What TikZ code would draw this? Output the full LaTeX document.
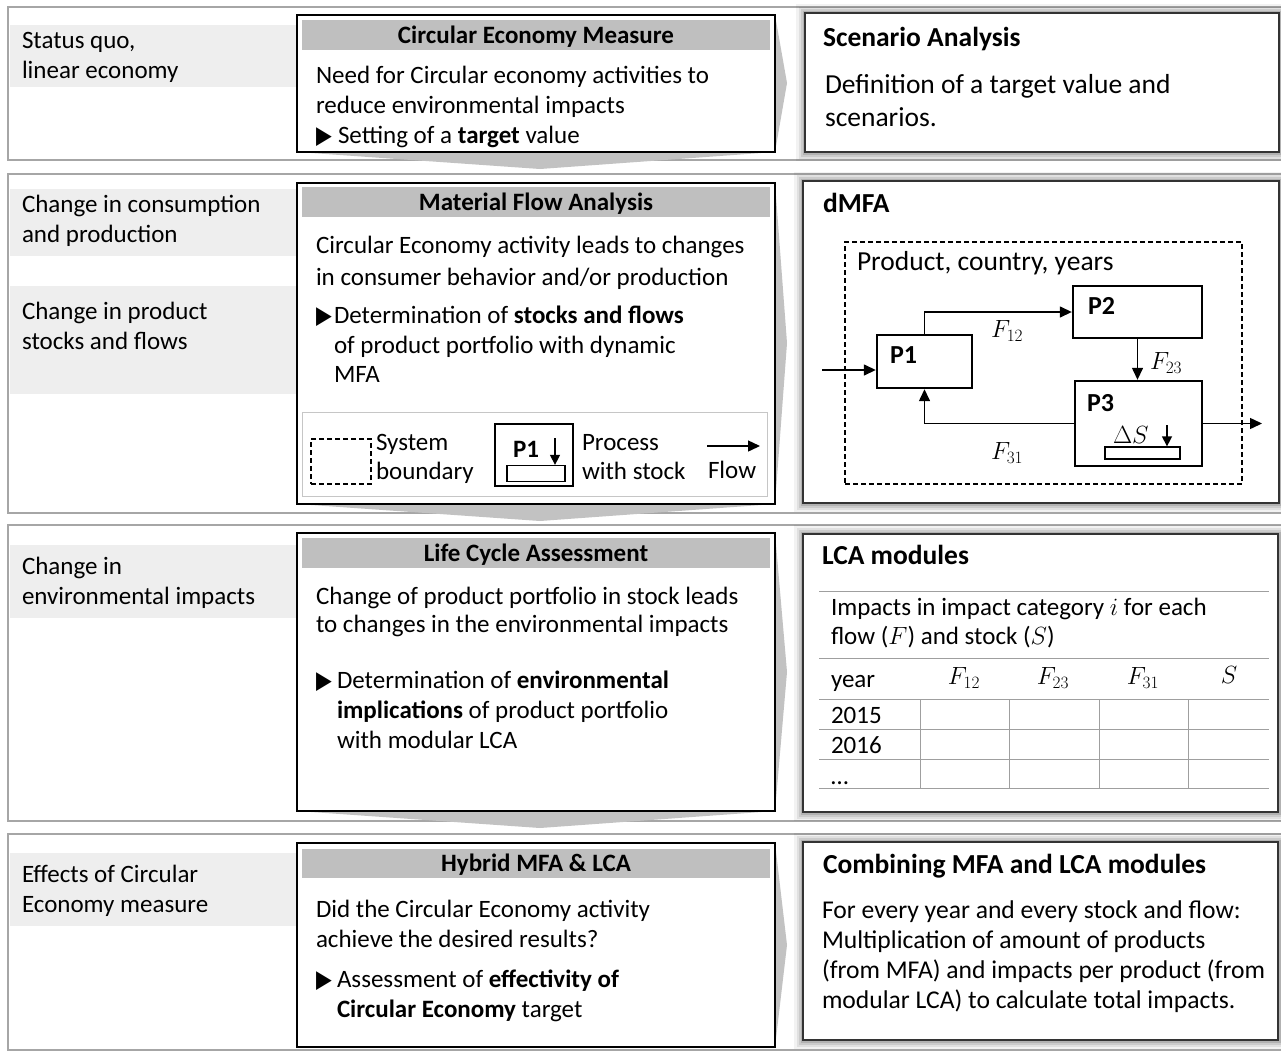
\documentclass[tikz,border=0pt]{standalone}
\usepackage{fontspec}
\setmainfont{Carlito}
\newfontfamily\symf{DejaVu Sans}
\usetikzlibrary{arrows.meta}
\newcommand\tri[1][20pt]{\makebox[#1][l]{\symf\fontsize{20.5}{20}\selectfont\scalebox{1}[1.2]{▶}}}
\newcommand\rshadow[4]{%
  \foreach \ww/\op in {18/0.05,13/0.07,9/0.09,5/0.12}{%
    \draw[line width=\ww pt, draw=black, opacity=\op] (#1,#2) rectangle (#3,#4);}}
\tikzset{
  bandbox/.style={draw=gray!70, line width=1.4pt},
  strip/.style={fill=gray!13},
  midbox/.style={draw=black, line width=1.8pt, fill=white},
  tbar/.style={fill=gray!50},
  chev/.style={fill=gray!48},
  rbox/.style={draw=black!80, line width=1.8pt, fill=white},
  ln/.style={anchor=base west, inner sep=0pt, outer sep=0pt, font=\fontsize{25}{30}\selectfont},
  lnr/.style={anchor=base west, inner sep=0pt, outer sep=0pt, font=\fontsize{27.5}{33}\selectfont},
  lnb/.style={anchor=base west, inner sep=0pt, outer sep=0pt, font=\fontsize{25.6}{30}\selectfont},
  ttl/.style={anchor=base, inner sep=0pt, outer sep=0pt, font=\bfseries\fontsize{25}{30}\selectfont},
  rttl/.style={anchor=base west, inner sep=0pt, outer sep=0pt, font=\bfseries\fontsize{27.5}{33}\selectfont},
  plab/.style={anchor=base west, inner sep=0pt, outer sep=0pt, font=\bfseries\fontsize{26}{30}\selectfont},
  proc/.style={draw=black, line width=2.4pt, inner sep=0pt},
  stockbar/.style={draw=black, line width=1.3pt, inner sep=0pt},
  sysb/.style={draw=black, line width=1.3pt, dash pattern=on 5pt off 3pt, inner sep=0pt},
  flow/.style={line width=1.4pt, -{Triangle[length=12pt,width=11pt]}},
  sflow/.style={line width=1.4pt, -{Triangle[length=10pt,width=10pt]}},
  tline/.style={draw=gray!75, line width=1pt},
  mth/.style={inner sep=0pt, outer sep=0pt, font=\fontsize{27}{27}\selectfont},
}
\begin{document}
\begin{tikzpicture}[x=1pt,y=-1pt]
\useasboundingbox (0,0) rectangle (1281,1052);
\fill[white] (0,0) rectangle (1281,1052);

% bands
\draw[bandbox] (8,7) rectangle (1295,160);
\draw[bandbox] (8,174) rectangle (1295,513);
\draw[bandbox] (8,525) rectangle (1295,821);
\draw[bandbox] (8,834) rectangle (1295,1050);

% left strips
\fill[strip] (10,25) rectangle (297,87);
\fill[strip] (10,189) rectangle (297,256);
\fill[strip] (10,286) rectangle (297,394);
\fill[strip] (10,545) rectangle (297,618);
\fill[strip] (10,853) rectangle (297,926);

% chevrons behind the middle boxes
\fill[chev] (297,152) -- (540,169) -- (775,152) -- (787,83) -- (775,15) -- (297,15) -- cycle;
\fill[chev] (297,504) -- (540,521) -- (775,504) -- (787,343) -- (775,183) -- (297,183) -- cycle;
\fill[chev] (297,811) -- (540,828) -- (775,811) -- (787,672) -- (775,533) -- (297,533) -- cycle;
\fill[chev] (297,1047) -- (775,1047) -- (787,945) -- (775,843) -- (297,843) -- cycle;

% middle boxes
\draw[midbox] (297,15) rectangle (775,152);
\fill[tbar] (302,20) rectangle (770,50);
\draw[midbox] (297,183) rectangle (775,504);
\fill[tbar] (302,187) rectangle (770,217);
\draw[midbox] (297,533) rectangle (775,811);
\fill[tbar] (302,538) rectangle (770,568);
\draw[midbox] (297,843) rectangle (775,1047);
\fill[tbar] (302,849) rectangle (770,878);

% right boxes with soft shadow
\rshadow{805}{13}{1279}{152}
\draw[rbox] (805,13) rectangle (1279,152);
\rshadow{803}{181}{1279}{503}
\draw[rbox] (803,181) rectangle (1279,503);
\rshadow{803}{534}{1278}{812}
\draw[rbox] (803,534) rectangle (1278,812);
\rshadow{803}{842}{1278}{1040}
\draw[rbox] (803,842) rectangle (1278,1040);

% ---------- band 1 ----------
\node[ln] (l1a) at (22,48) {Status quo,};
\node[ln] (l1b) at (22,78) {linear economy};
\node[ttl] (t1) at (536,43) {Circular Economy Measure};
\node[ln] (m1a) at (316,83) {Need for Circular economy activities to};
\node[ln] (m1b) at (316,113) {reduce environmental impacts};
\node[ln] (m1c) at (316,143) {\tri[22pt]Setting of a \textbf{target} value};
\node[rttl] (r1t) at (823,46) {Scenario Analysis};
\node[lnr] (r1a) at (825,93) {Definition of a target value and};
\node[lnr] (r1b) at (825,126) {scenarios.};

% ---------- band 2 ----------
\node[ln] (l2a) at (22,212) {Change in consumption};
\node[ln] (l2b) at (22,242) {and production};
\node[ln] (l2c) at (22,319) {Change in product};
\node[ln] (l2d) at (22,349) {stocks and flows};
\node[ttl] (t2) at (536,210) {Material Flow Analysis};
\node[ln] (m2a) at (316,253) {Circular Economy activity leads to changes};
\node[ln] (m2b) at (316,285) {in consumer behavior and/or production};
\node[ln] (m2c) at (316,323) {\tri[18pt]Determination of \textbf{stocks and flows}};
\node[ln] (m2d) at (334,353) {of product portfolio with dynamic};
\node[ln] (m2e) at (334,382) {MFA};

% legend
\draw[draw=gray!45, line width=0.9pt] (302,412) rectangle (767,496);
\node[sysb, minimum width=60pt, minimum height=45pt] (lsb) at (341,461.5) {};
\node[ln] (lg1) at (376,450) {System};
\node[ln] (lg2) at (376,479) {boundary};
\node[proc, minimum width=78pt, minimum height=62pt] (lp) at (534,455) {};
\node[plab, font=\bfseries\fontsize{25}{30}\selectfont] (lpl) at (513,457) {P1};
\node[stockbar, minimum width=58pt, minimum height=16pt] (lps) at (536,473.5) {};
\coordinate (lpa) at (555,438);
\draw[sflow] (lpa) -- (lpa |- lps.north);
\node[ln] (lg3) at (582,450) {Process};
\node[ln] (lg4) at (582,479) {with stock};
\coordinate (lf1) at (707,446);
\coordinate (lf2) at (760,446);
\draw[flow] (lf1) -- (lf2);
\node[ln] (lg5) at (708,478) {Flow};

% dMFA
\node[rttl] (r2t) at (823,212) {dMFA};
\node[sysb, minimum width=397pt, minimum height=242pt] (sysbd) at (1043.5,363) {};
\node[lnr] (r2a) at (857,270) {Product, country, years};
\node[proc, minimum width=95pt, minimum height=53pt] (P1) at (924.5,361.5) {};
\node[proc, minimum width=129pt, minimum height=52pt] (P2) at (1137.5,312) {};
\node[proc, minimum width=127pt, minimum height=85pt] (P3) at (1138.5,423.5) {};
\node[plab] (P1l) at (890,363) {P1};
\node[plab] (P2l) at (1088,314) {P2};
\node[plab] (P3l) at (1087,411) {P3};
\node[stockbar, minimum width=75pt, minimum height=12pt] (S3) at (1142.5,453) {};
\coordinate (s3a) at (1167,425);
\draw[sflow] (s3a) -- (s3a |- S3.north);
\node[mth, anchor=base west] (dS) at (1113,443) {$\Delta S$};
\coordinate (inp) at (822,370);
\coordinate (outp) at (1262,423.5);
\draw[flow] (inp) -- (inp -| P1.west);
\draw[flow] (P1.north) |- (P2.west);
\draw[flow] (P2.south) -- (P2.south |- P3.north);
\draw[flow] (P3.west) -| (P1.south);
\draw[flow] (P3.east) -- (outp);
\node[mth, anchor=west] (f12) at (991,331) {$F_{12}$};
\node[mth, anchor=west] (f23) at (1150,363) {$F_{23}$};
\node[mth, anchor=west] (f31) at (991,453) {$F_{31}$};

% ---------- band 3 ----------
\node[ln] (l3a) at (22,574) {Change in};
\node[ln] (l3b) at (22,604) {environmental impacts};
\node[ttl] (t3) at (536,561) {Life Cycle Assessment};
\node[ln] (m3a) at (316,604) {Change of product portfolio in stock leads};
\node[ln] (m3b) at (316,632) {to changes in the environmental impacts};
\node[ln] (m3c) at (316,688) {\tri[21pt]Determination of \textbf{environmental}};
\node[ln] (m3d) at (337,718) {\textbf{implications} of product portfolio};
\node[ln] (m3e) at (337,748) {with modular LCA};

\node[rttl] (r3t) at (822,564) {LCA modules};
\foreach \yy in {591,658,699,729,759,788} \draw[tline] (819,\yy) -- (1269,\yy);
\foreach \xx in {920,1009,1099,1188} \draw[tline] (\xx,699) -- (\xx,788);
\node[ln] (r3a) at (831,615) {Impacts in impact category $i$ for each};
\node[ln] (r3b) at (831,644) {flow ($F$) and stock ($S$)};
\node[ln] (r3y) at (831,687) {year};
\node[mth] (h12) at (964,678) {$F_{12}$};
\node[mth] (h23) at (1053,678) {$F_{23}$};
\node[mth] (h31) at (1143,678) {$F_{31}$};
\node[mth] (hs) at (1229,675) {$S$};
\node[ln] (y15) at (831,723) {2015};
\node[ln] (y16) at (831,753) {2016};
\node[ln] (ydots) at (831,784) {…};

% ---------- band 4 ----------
\node[ln] (l4a) at (22,882) {Effects of Circular};
\node[ln] (l4b) at (22,912) {Economy measure};
\node[ttl] (t4) at (536,871.5) {Hybrid MFA \& LCA};
\node[ln] (m4a) at (316,917) {Did the Circular Economy activity};
\node[ln] (m4b) at (316,947) {achieve the desired results?};
\node[ln] (m4c) at (316,987) {\tri[21pt]Assessment of \textbf{effectivity of}};
\node[ln] (m4d) at (337,1017) {\textbf{Circular Economy} target};
\node[rttl] (r4t) at (823,873) {Combining MFA and LCA modules};
\node[lnb] (r4a) at (822,918) {For every year and every stock and flow:};
\node[lnb] (r4b) at (822,948) {Multiplication of amount of products};
\node[lnb] (r4c) at (822,978) {(from MFA) and impacts per product (from};
\node[lnb] (r4d) at (822,1008) {modular LCA) to calculate total impacts.};
\end{tikzpicture}
\end{document}
